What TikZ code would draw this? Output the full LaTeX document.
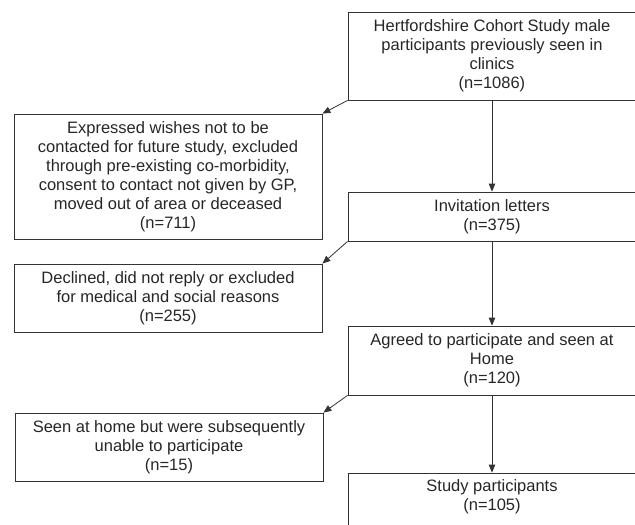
\documentclass[tikz,border=0pt]{standalone}
\usepackage{fontspec}
\setmainfont{Liberation Sans}
\usetikzlibrary{arrows.meta}

\begin{document}
\begin{tikzpicture}[x=1pt,y=-1pt]
    % Define styles
    \tikzset{
        stage/.style={rectangle, draw=black!80, line width=0.8pt, text=black!85, align=center, minimum width=288pt, font=\fontsize{16.5}{19}\selectfont},
        excluded/.style={stage, minimum width=308pt},
        arrow/.style={-{Triangle[length=8pt,width=6.5pt]}, draw=black!80, line width=0.8pt}
    }
    \useasboundingbox (0,0) rectangle (635,525);
    \clip (0,0) rectangle (635,525);

    % Nodes
    \node[stage, minimum height=88pt] (cohort) at (492,56) {Hertfordshire Cohort Study male\\participants previously seen in\\clinics\\(n=1086)};
    \node[excluded, minimum height=125pt] (wishes) at (168,176.5) {Expressed wishes not to be\\contacted for future study, excluded\\through pre-existing co-morbidity,\\consent to contact not given by GP,\\moved out of area or deceased\\(n=711)};
    \node[stage, minimum height=49pt] (letters) at (492,216.5) {Invitation letters\\(n=375)};
    \node[excluded, minimum height=68pt] (declined) at (168,298) {Declined, did not reply or excluded\\for medical and social reasons\\(n=255)};
    \node[stage, minimum height=69pt] (agreed) at (492,360.5) {Agreed to participate and seen at\\Home\\(n=120)};
    \node[excluded, minimum height=68pt] (unable) at (169,447) {Seen at home but were subsequently\\unable to participate\\(n=15)};
    \node[stage, minimum height=68pt] (study) at (492,507) {Study participants\\(n=105)\\\strut};

    % Arrows
    \draw[arrow] (cohort.south west) -- (wishes.north east);
    \draw[arrow] (cohort.south) -- (letters.north);
    \draw[arrow] (letters.south west) -- (declined.north east);
    \draw[arrow] (letters.south) -- (agreed.north);
    \draw[arrow] (agreed.south west) -- (unable.north east);
    \draw[arrow] (agreed.south) -- (study.north);
\end{tikzpicture}
\end{document}
